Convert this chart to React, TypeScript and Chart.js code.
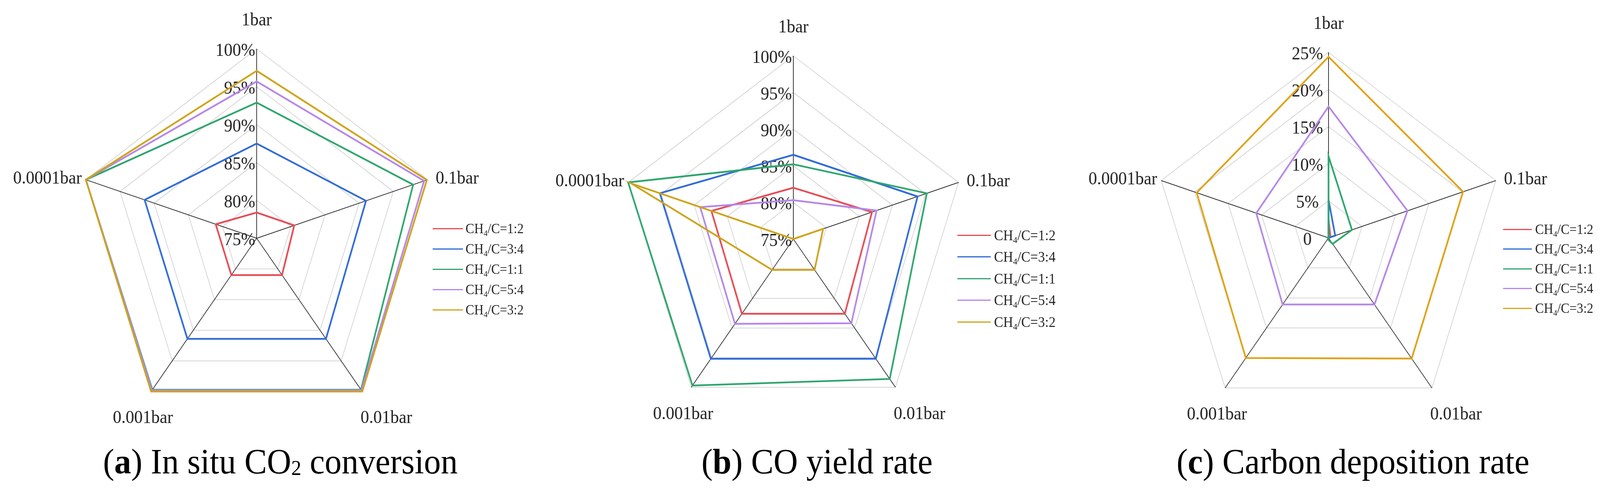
import { useEffect, useRef } from "react"
import { Chart, registerables } from "chart.js"

Chart.register(...registerables)

// axes of every radar, clockwise from the top
const pressures = ["1bar", "0.1bar", "0.01bar", "0.001bar", "0.0001bar"]
const ratios = ["1:2", "3:4", "1:1", "5:4", "3:2"]

// (a) in situ CO2 conversion (%)
const conv12 = [78.4, 80.5, 81.0, 81.0, 81.0]
const conv34 = [87.5, 91.0, 91.4, 91.4, 91.4]
const conv11 = [92.9, 97.9, 99.7, 99.7, 100]
const conv54 = [95.7, 99.5, 99.8, 99.8, 100]
const conv32 = [97.1, 99.9, 100, 100, 100]
const convTicks = ["75%", "80%", "85%", "90%", "95%", "100%"]

// (b) CO yield rate (%)
const yield12 = [82.0, 86.9, 87.6, 87.6, 87.4]
const yield34 = [86.5, 93.8, 95.2, 95.2, 95.2]
const yield11 = [85.2, 95.2, 98.6, 99.7, 100]
const yield54 = [80.3, 87.6, 89.2, 89.3, 89.1]
const yield32 = [75.0, 79.5, 80.2, 80.2, 99.5]
const yieldTicks = ["75%", "80%", "85%", "90%", "95%", "100%"]

// (c) carbon deposition rate (%)
const dep12 = [2.4, 0.3, 0, 0, 0]
const dep34 = [5.1, 1.0, 0, 0, 0]
const dep11 = [11.0, 3.5, 1.0, 0.2, 0]
const dep54 = [17.7, 11.8, 11.1, 11.1, 10.8]
const dep32 = [24.4, 20.1, 20.1, 20.0, 19.7]
const depTicks = ["0", "5%", "10%", "15%", "20%", "25%"]

const colorsAB = ["#E84B55", "#2F6BD8", "#2EA56E", "#B587E8", "#CFA31A"]
const colorsC = ["#E84B55", "#2F6BD8", "#2EA56E", "#B587E8", "#DFA214"]

const FIG_W = 4320
const FIG_H = 1257
const PANEL_W = 1440
const CANVAS_H = 1140
const FONT = '"Liberation Serif", "Times New Roman", serif'

// where each pressure label sits relative to its outer vertex: dx, dy, align
const labelPlace: [number, number, CanvasTextAlign][] = [
  [0, -72, "center"],
  [22, -2, "left"],
  [65, 69, "center"],
  [-22, 69, "center"],
  [-11, -2, "right"],
]

const radarText = {
  id: "radarText",
  beforeDatasetsDraw(chart: any, _args: any, opts: any) {
    const scale = chart.scales.r
    const ctx = chart.ctx
    ctx.save()
    ctx.font = `46px ${FONT}`
    ctx.fillStyle = "#1e1e1e"
    ctx.textAlign = opts.tickAlign
    ctx.textBaseline = "middle"
    scale.ticks.forEach((t: any, i: number) => {
      const y = scale.yCenter - scale.getDistanceFromCenterForValue(t.value) + 6
      ctx.fillText(opts.tickLabels[i], scale.xCenter + opts.tickDx, y)
    })
    ctx.restore()
  },
  afterDraw(chart: any) {
    const scale = chart.scales.r
    const ctx = chart.ctx
    ctx.save()
    ctx.font = `46px ${FONT}`
    ctx.fillStyle = "#1e1e1e"
    ctx.textBaseline = "middle"
    chart.data.labels.forEach((lab: string, i: number) => {
      const p = scale.getPointPosition(i, scale.drawingArea)
      const [dx, dy, align] = labelPlace[i]
      ctx.textAlign = align
      ctx.fillText(lab, p.x + dx, p.y + dy)
    })
    ctx.restore()
  },
}

interface PanelProps {
  left: number
  series: number[][]
  colors: string[]
  min: number
  max: number
  tickLabels: string[]
  tickAlign: CanvasTextAlign
  tickDx: number
  cx: number
  cy: number
  radius: number
  legend: { x0: number; x1: number; tx: number; y0: number; dy: number; font: number }
  caption: { letter: string; pre: string; sub?: string; post?: string; cx: number }
}

function RadarPanel(p: PanelProps) {
  const canvasRef = useRef<HTMLCanvasElement>(null)

  useEffect(() => {
    if (!canvasRef.current) return
    const chart = new Chart(canvasRef.current, {
      type: "radar",
      data: {
        labels: pressures,
        datasets: p.series.map((d, i) => ({
          label: `CH4/C=${ratios[i]}`,
          data: d,
          borderColor: p.colors[i],
          backgroundColor: p.colors[i],
          borderWidth: 4.5,
          borderJoinStyle: "miter" as const,
          pointRadius: 0,
          fill: false,
          order: p.series.length - i,
        })),
      },
      options: {
        responsive: false,
        animation: false,
        layout: {
          padding: {
            left: p.cx - p.radius,
            top: p.cy - p.radius,
            right: PANEL_W - p.cx - p.radius,
            bottom: CANVAS_H - p.cy - p.radius,
          },
        },
        plugins: {
          legend: { display: false },
          tooltip: { enabled: false },
          radarText: { tickLabels: p.tickLabels, tickAlign: p.tickAlign, tickDx: p.tickDx },
        } as any,
        scales: {
          r: {
            min: p.min,
            max: p.max,
            ticks: { stepSize: 5, display: false },
            pointLabels: { display: false },
            grid: { color: "#c8c8c8", lineWidth: 1.5 },
            angleLines: { color: "#333333", lineWidth: 2 },
          },
        },
      },
      plugins: [radarText],
    })
    return () => chart.destroy()
  }, [])

  const lg = p.legend
  return (
    <div style={{ position: "absolute", left: p.left, top: 0, width: PANEL_W, height: FIG_H }}>
      <canvas
        ref={canvasRef}
        width={PANEL_W}
        height={CANVAS_H}
        style={{ position: "absolute", left: 0, top: 0, width: PANEL_W, height: CANVAS_H }}
      />
      {ratios.map((r, i) => (
        <div key={r}>
          <div
            style={{
              position: "absolute",
              left: lg.x0,
              top: lg.y0 + i * lg.dy - 1.5,
              width: lg.x1 - lg.x0,
              height: 3,
              background: p.colors[i],
            }}
          />
          <div
            style={{
              position: "absolute",
              left: lg.tx,
              top: lg.y0 + i * lg.dy - lg.font * 0.5,
              fontFamily: FONT,
              fontSize: lg.font,
              lineHeight: `${lg.font}px`,
              color: "#262626",
              whiteSpace: "nowrap",
            }}
          >
            CH<span style={{ fontSize: "0.62em", verticalAlign: "-0.32em" }}>4</span>/C={r}
          </div>
        </div>
      ))}
      <div
        style={{
          position: "absolute",
          left: p.caption.cx,
          top: 1136,
          transform: "translateX(-50%)",
          fontFamily: FONT,
          fontSize: 91,
          lineHeight: "91px",
          color: "#000",
          whiteSpace: "nowrap",
        }}
      >
        (<b>{p.caption.letter}</b>) {p.caption.pre}
        {p.caption.sub && <span style={{ fontSize: "0.6em", verticalAlign: "-0.08em" }}>{p.caption.sub}</span>}
        {p.caption.post}
      </div>
    </div>
  )
}

export default function App() {
  // the browser may hand us a narrower viewport than the figure; squeeze to fit
  const k = Math.min(1, window.innerWidth / FIG_W)
  return (
    <div
      style={{
        position: "absolute",
        left: 0,
        top: 0,
        width: FIG_W,
        height: FIG_H,
        background: "#fff",
        transform: `scaleX(${k})`,
        transformOrigin: "0 0",
      }}
    >
      <RadarPanel
        left={0}
        series={[conv12, conv34, conv11, conv54, conv32]}
        colors={colorsAB}
        min={75}
        max={100}
        tickLabels={convTicks}
        tickAlign="right"
        tickDx={-4}
        cx={693}
        cy={610}
        radius={485}
        legend={{ x0: 1168, x1: 1250, tx: 1257, y0: 585, dy: 52, font: 35 }}
        caption={{ letter: "a", pre: "In situ CO", sub: "2", post: " conversion", cx: 757 }}
      />
      <RadarPanel
        left={1440}
        series={[yield12, yield34, yield11, yield54, yield32]}
        colors={colorsAB}
        min={75}
        max={100}
        tickLabels={yieldTicks}
        tickAlign="right"
        tickDx={-4}
        cx={702}
        cy={612}
        radius={469}
        legend={{ x0: 1145, x1: 1235, tx: 1244, y0: 602, dy: 55.5, font: 37 }}
        caption={{ letter: "b", pre: "CO yield rate", cx: 766 }}
      />
      <RadarPanel
        left={2880}
        series={[dep12, dep34, dep11, dep54, dep32]}
        colors={colorsC}
        min={0}
        max={25}
        tickLabels={depTicks}
        tickAlign="center"
        tickDx={-57}
        cx={707}
        cy={609}
        radius={475}
        legend={{ x0: 1178, x1: 1256, tx: 1265, y0: 587, dy: 50.5, font: 35 }}
        caption={{ letter: "c", pre: "Carbon deposition rate", cx: 773 }}
      />
    </div>
  )
}
